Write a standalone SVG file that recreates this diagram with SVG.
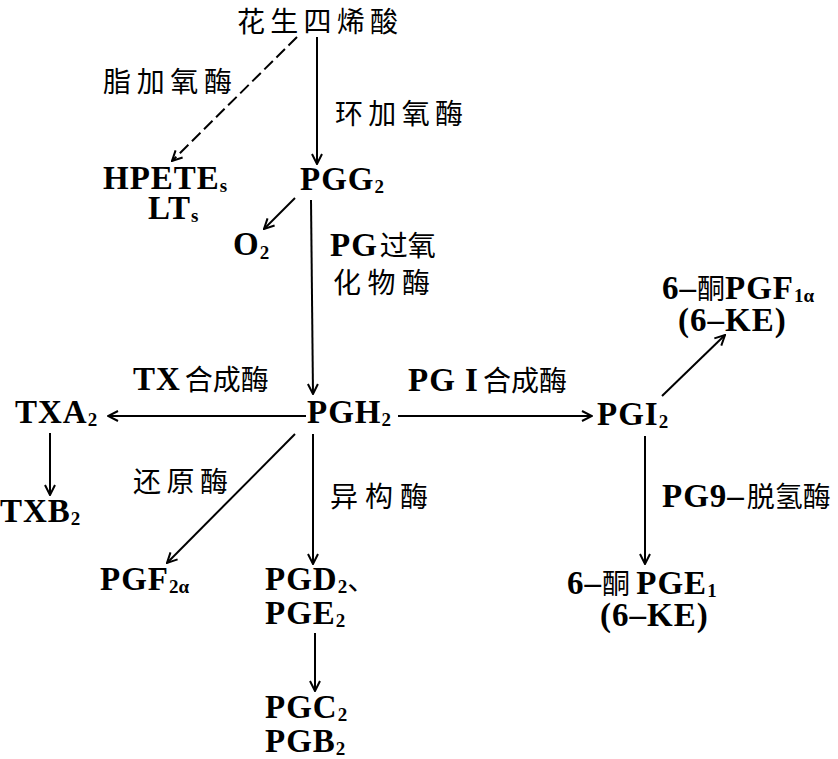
<svg xmlns="http://www.w3.org/2000/svg" width="838" height="759" viewBox="0 0 838 759">
<style>
.lat{font-family:"Liberation Serif","DejaVu Serif",serif;font-weight:bold;font-size:33px;fill:#000;letter-spacing:1px}
.cjk{font-family:"Noto Sans CJK SC","Noto Sans CJK JP",sans-serif;font-size:28px;fill:#000}
.sub{font-size:19px;letter-spacing:0}
.ln{stroke:#000;stroke-width:2;fill:none}
</style>
<defs>
<marker id="ah" viewBox="0 0 12 12" refX="11" refY="6" markerWidth="12" markerHeight="12" markerUnits="userSpaceOnUse" orient="auto">
<path d="M1,1 L11,6 L1,11" fill="none" stroke="#000" stroke-width="2"/>
</marker>
</defs>
<rect width="838" height="759" fill="#fff"/>
<g id="connectors">
<line class="ln" x1="297" y1="37" x2="172" y2="161" stroke-dasharray="12,5" marker-end="url(#ah)"/>
<line class="ln" x1="317" y1="37" x2="317" y2="164" marker-end="url(#ah)"/>
<line class="ln" x1="295" y1="198" x2="264" y2="229" marker-end="url(#ah)"/>
<line class="ln" x1="311" y1="200" x2="313" y2="394" marker-end="url(#ah)"/>
<line class="ln" x1="306" y1="416" x2="108" y2="416" marker-end="url(#ah)"/>
<line class="ln" x1="398" y1="416" x2="592" y2="416" marker-end="url(#ah)"/>
<line class="ln" x1="50" y1="433" x2="50" y2="495" marker-end="url(#ah)"/>
<line class="ln" x1="295" y1="434" x2="167" y2="563" marker-end="url(#ah)"/>
<line class="ln" x1="313" y1="434" x2="313" y2="564" marker-end="url(#ah)"/>
<line class="ln" x1="315" y1="633" x2="315" y2="691" marker-end="url(#ah)"/>
<line class="ln" x1="662" y1="396" x2="725" y2="335" marker-end="url(#ah)"/>
<line class="ln" x1="645" y1="436" x2="645" y2="564" marker-end="url(#ah)"/>
</g>
<g id="labels">
<text class="cjk" x="103" y="92" textLength="129">脂加氧酶</text>
<text class="cjk" x="335" y="124" textLength="128">环加氧酶</text>
<text x="330" y="256"><tspan class="lat">PG</tspan><tspan class="cjk" dx="2">过氧</tspan></text>
<text class="cjk" x="333" y="293" textLength="97">化物酶</text>
<text x="133" y="390"><tspan class="lat">TX</tspan><tspan class="cjk" dx="4">合成酶</tspan></text>
<text x="408" y="391"><tspan class="lat">PG I</tspan><tspan class="cjk" dx="4">合成酶</tspan></text>
<text class="cjk" x="133" y="492" textLength="95">还原酶</text>
<text class="cjk" x="330" y="507" textLength="98">异构酶</text>
<text x="662" y="507"><tspan class="lat">PG9–</tspan><tspan class="cjk" dx="2">脱氢酶</tspan></text>
</g>
<g id="n-aa"><text class="cjk" x="237" y="32" font-size="29" textLength="161">花生四烯酸</text></g>
<g id="n-hpete">
<text class="lat" x="103" y="189" letter-spacing="3">HPETE<tspan class="sub" dy="3">s</tspan></text>
<text class="lat" x="148" y="219">LT<tspan class="sub" dy="3">s</tspan></text>
</g>
<g id="n-pgg2"><text class="lat" x="300" y="190">PGG<tspan class="sub" dy="3">2</tspan></text></g>
<g id="n-o2"><text class="lat" x="233" y="255">O<tspan class="sub" dy="4">2</tspan></text></g>
<g id="n-pgh2"><text class="lat" x="307" y="423">PGH<tspan class="sub" dy="3">2</tspan></text></g>
<g id="n-txa2"><text class="lat" x="15" y="423">TXA<tspan class="sub" dy="3">2</tspan></text></g>
<g id="n-txb2"><text class="lat" x="0" y="522">TXB<tspan class="sub" dy="3">2</tspan></text></g>
<g id="n-pgf2a"><text class="lat" x="100" y="590">PGF<tspan class="sub" dy="3">2α</tspan></text></g>
<g id="n-pgd2">
<text x="265" y="590"><tspan class="lat">PGD</tspan><tspan class="lat sub" dy="3">2</tspan><tspan class="cjk" dy="-3">、</tspan></text>
<text class="lat" x="265" y="624">PGE<tspan class="sub" dy="3">2</tspan></text>
</g>
<g id="n-pgc2">
<text class="lat" x="265" y="718">PGC<tspan class="sub" dy="3">2</tspan></text>
<text class="lat" x="265" y="752">PGB<tspan class="sub" dy="3">2</tspan></text>
</g>
<g id="n-pgi2"><text class="lat" x="597" y="425">PGI<tspan class="sub" dy="3">2</tspan></text></g>
<g id="n-kpgf">
<text x="662" y="299"><tspan class="lat">6–</tspan><tspan class="cjk">酮</tspan><tspan class="lat">PGF</tspan><tspan class="lat sub" dy="3">1α</tspan></text>
<text class="lat" x="678" y="331" letter-spacing="2">(6–KE)</text>
</g>
<g id="n-kpge">
<text x="567" y="594"><tspan class="lat">6–</tspan><tspan class="cjk">酮 </tspan><tspan class="lat">PGE</tspan><tspan class="lat sub" dy="3">1</tspan></text>
<text class="lat" x="600" y="626" letter-spacing="2">(6–KE)</text>
</g>
</svg>
